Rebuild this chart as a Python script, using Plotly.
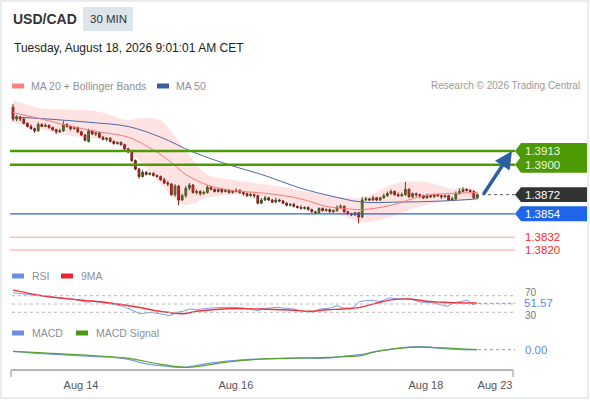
import plotly.graph_objects as go

W, H = 590, 400

# ---- 30 min candles (index 0 = first bar on the left) ----
open_ = [1.3954, 1.3943, 1.3945, 1.3943, 1.3939, 1.3936, 1.3934, 1.3932, 1.3938, 1.3936,
         1.3937, 1.3935, 1.3933, 1.3931, 1.3932, 1.3938, 1.3936, 1.3934, 1.3935, 1.3931,
         1.3928, 1.3922, 1.3932, 1.3929, 1.3930, 1.3926, 1.3924, 1.3925, 1.3922, 1.3920,
         1.3921, 1.3919, 1.3915, 1.3912, 1.3904, 1.3896, 1.3889, 1.3893, 1.3891, 1.3892,
         1.3890, 1.3889, 1.3886, 1.3883, 1.3882, 1.3872, 1.3880, 1.3867, 1.3871, 1.3878,
         1.3881, 1.3874, 1.3875, 1.3873, 1.3874, 1.3879, 1.3877, 1.3875, 1.3877, 1.3875,
         1.3876, 1.3874, 1.3875, 1.3876, 1.3874, 1.3873, 1.3871, 1.3872, 1.3871, 1.3864,
         1.3867, 1.3869, 1.3867, 1.3865, 1.3867, 1.3866, 1.3864, 1.3862, 1.3863, 1.3861,
         1.3860, 1.3859, 1.3860, 1.3858, 1.3856, 1.3855, 1.3859, 1.3857, 1.3858, 1.3856,
         1.3857, 1.3860, 1.3861, 1.3856, 1.3854, 1.3853, 1.3855, 1.3851, 1.3867, 1.3868,
         1.3867, 1.3869, 1.3867, 1.3869, 1.3871, 1.3873, 1.3875, 1.3872, 1.3871, 1.3872,
         1.3877, 1.3870, 1.3873, 1.3872, 1.3871, 1.3869, 1.3871, 1.3870, 1.3872, 1.3871,
         1.3870, 1.3871, 1.3867, 1.3868, 1.3873, 1.3875, 1.3877, 1.3876, 1.3875, 1.3869]
high = [1.3957, 1.3947, 1.3946, 1.3944, 1.3940, 1.3938, 1.3935, 1.3940, 1.3939, 1.3939,
        1.3938, 1.3936, 1.3934, 1.3934, 1.3941, 1.3939, 1.3937, 1.3936, 1.3936, 1.3932,
        1.3929, 1.3934, 1.3933, 1.3931, 1.3931, 1.3927, 1.3926, 1.3926, 1.3923, 1.3922,
        1.3922, 1.3920, 1.3916, 1.3913, 1.3905, 1.3897, 1.3895, 1.3894, 1.3893, 1.3893,
        1.3891, 1.3890, 1.3888, 1.3885, 1.3883, 1.3882, 1.3881, 1.3873, 1.3880, 1.3883,
        1.3882, 1.3877, 1.3876, 1.3876, 1.3881, 1.3880, 1.3878, 1.3878, 1.3878, 1.3877,
        1.3877, 1.3876, 1.3878, 1.3877, 1.3875, 1.3874, 1.3874, 1.3873, 1.3872, 1.3869,
        1.3871, 1.3870, 1.3868, 1.3869, 1.3868, 1.3867, 1.3865, 1.3864, 1.3864, 1.3862,
        1.3862, 1.3861, 1.3861, 1.3859, 1.3857, 1.3860, 1.3860, 1.3859, 1.3859, 1.3858,
        1.3862, 1.3863, 1.3862, 1.3857, 1.3855, 1.3856, 1.3856, 1.3870, 1.3870, 1.3869,
        1.3871, 1.3870, 1.3870, 1.3873, 1.3875, 1.3877, 1.3876, 1.3874, 1.3874, 1.3884,
        1.3878, 1.3874, 1.3874, 1.3873, 1.3872, 1.3873, 1.3872, 1.3873, 1.3873, 1.3872,
        1.3872, 1.3872, 1.3870, 1.3875, 1.3878, 1.3879, 1.3878, 1.3877, 1.3876, 1.3873]
low = [1.3941, 1.3941, 1.3941, 1.3938, 1.3935, 1.3933, 1.3930, 1.3931, 1.3936, 1.3936,
       1.3934, 1.3932, 1.3929, 1.3930, 1.3931, 1.3935, 1.3932, 1.3933, 1.3930, 1.3927,
       1.3922, 1.3921, 1.3928, 1.3927, 1.3925, 1.3923, 1.3922, 1.3921, 1.3919, 1.3919,
       1.3918, 1.3914, 1.3911, 1.3903, 1.3895, 1.3887, 1.3888, 1.3890, 1.3890, 1.3889,
       1.3888, 1.3885, 1.3882, 1.3880, 1.3871, 1.3870, 1.3862, 1.3866, 1.3869, 1.3876,
       1.3873, 1.3872, 1.3871, 1.3872, 1.3873, 1.3876, 1.3874, 1.3874, 1.3873, 1.3874,
       1.3873, 1.3873, 1.3874, 1.3873, 1.3871, 1.3870, 1.3870, 1.3869, 1.3863, 1.3863,
       1.3866, 1.3866, 1.3864, 1.3864, 1.3865, 1.3863, 1.3861, 1.3861, 1.3860, 1.3859,
       1.3858, 1.3858, 1.3857, 1.3855, 1.3854, 1.3854, 1.3856, 1.3856, 1.3855, 1.3855,
       1.3856, 1.3859, 1.3855, 1.3853, 1.3852, 1.3852, 1.3845, 1.3850, 1.3866, 1.3866,
       1.3866, 1.3866, 1.3866, 1.3868, 1.3870, 1.3872, 1.3871, 1.3870, 1.3870, 1.3871,
       1.3869, 1.3869, 1.3870, 1.3869, 1.3868, 1.3868, 1.3869, 1.3869, 1.3870, 1.3868,
       1.3869, 1.3866, 1.3866, 1.3867, 1.3872, 1.3874, 1.3875, 1.3874, 1.3868, 1.3868]
close = [1.3943, 1.3945, 1.3943, 1.3939, 1.3936, 1.3934, 1.3932, 1.3938, 1.3936, 1.3937,
         1.3935, 1.3933, 1.3931, 1.3932, 1.3938, 1.3936, 1.3934, 1.3935, 1.3931, 1.3928,
         1.3923, 1.3932, 1.3929, 1.3930, 1.3926, 1.3924, 1.3925, 1.3922, 1.3920, 1.3921,
         1.3919, 1.3915, 1.3912, 1.3904, 1.3896, 1.3889, 1.3893, 1.3891, 1.3892, 1.3890,
         1.3889, 1.3886, 1.3883, 1.3882, 1.3872, 1.3880, 1.3867, 1.3871, 1.3878, 1.3881,
         1.3874, 1.3875, 1.3873, 1.3874, 1.3879, 1.3877, 1.3875, 1.3877, 1.3875, 1.3876,
         1.3874, 1.3875, 1.3876, 1.3874, 1.3873, 1.3871, 1.3872, 1.3871, 1.3864, 1.3867,
         1.3869, 1.3867, 1.3865, 1.3867, 1.3866, 1.3864, 1.3862, 1.3863, 1.3861, 1.3860,
         1.3859, 1.3860, 1.3858, 1.3856, 1.3855, 1.3859, 1.3857, 1.3858, 1.3856, 1.3857,
         1.3860, 1.3861, 1.3856, 1.3854, 1.3853, 1.3855, 1.3851, 1.3867, 1.3868, 1.3867,
         1.3869, 1.3867, 1.3869, 1.3871, 1.3873, 1.3875, 1.3872, 1.3871, 1.3872, 1.3877,
         1.3870, 1.3873, 1.3872, 1.3871, 1.3869, 1.3871, 1.3870, 1.3872, 1.3871, 1.3870,
         1.3871, 1.3867, 1.3868, 1.3873, 1.3875, 1.3877, 1.3876, 1.3875, 1.3869, 1.3872]
bars = list(range(len(close)))

# moving averages / bands, read at a few bars
ma20_x = [0, 8, 15, 24, 32, 38, 43, 48, 54, 61, 71, 80, 87, 92, 97, 105, 114, 121, 129]
ma20 = [1.3949, 1.3943, 1.3937, 1.3931, 1.3926, 1.3916, 1.3905, 1.3891, 1.3881, 1.3876,
        1.3873, 1.3868, 1.3861, 1.3859, 1.3858, 1.3862, 1.3871, 1.3873, 1.3874]
ma50_x = [0, 10, 21, 32, 41, 50, 60, 69, 80, 88, 97, 107, 119, 129]
ma50 = [1.3945, 1.3943, 1.3940, 1.3936, 1.3926, 1.3912, 1.3900, 1.3891, 1.3878, 1.3871,
        1.3865, 1.3865, 1.3866, 1.3868]
bb_up_x = [0, 8, 15, 24, 32, 35, 41, 44, 49, 54, 61, 71, 80, 91, 97, 105, 109, 116, 121, 129]
bb_up = [1.3961, 1.3953, 1.3952, 1.3950, 1.3942, 1.3944, 1.3942, 1.3931, 1.3909, 1.3891,
         1.3886, 1.3881, 1.3876, 1.3870, 1.3869, 1.3881, 1.3884, 1.3883, 1.3878, 1.3876]
bb_lo_x = [0, 15, 27, 33, 38, 43, 46, 48, 54, 61, 71, 80, 91, 97, 105, 112, 119, 129]
bb_lo = [1.3940, 1.3928, 1.3922, 1.3911, 1.3893, 1.3875, 1.3865, 1.3862, 1.3869, 1.3872,
         1.3869, 1.3862, 1.3853, 1.3846, 1.3851, 1.3860, 1.3865, 1.3869]

# levels
resistance = [1.3913, 1.3900]
last_price = 1.3872
support = 1.3854
lower_levels = [1.3832, 1.3820]

# RSI + 9MA
rsi_x = [0, 3.9, 8.3, 13.1, 17.8, 20.6, 22.2, 26.9, 30.6, 35.3, 38.1, 40.8, 43.6, 45.6, 47.2,
         49.2, 51.1, 54.7, 59.4, 63.9, 68.1, 69.4, 73.3, 77.8, 80.6, 83.3, 85.3, 88.1, 90.0,
         91.7, 94.4, 96.4, 99.2, 101.9, 104.7, 107.5, 110.3, 113.1, 116.7, 120.6, 122.2,
         126.1, 127.8, 128.9]
rsi = [77.0, 72.4, 68.6, 64.5, 60.4, 54.1, 56.5, 50.7, 44.5, 26.6, 30.0, 26.6, 21.8, 30.0,
       32.5, 38.0, 36.3, 40.4, 42.0, 40.4, 33.9, 38.7, 42.0, 38.0, 32.5, 30.7, 38.0, 40.4,
       45.9, 40.4, 40.4, 56.5, 58.9, 56.5, 64.5, 62.0, 62.0, 54.8, 52.4, 44.5, 52.4, 58.9,
       48.3, 51.57]
rsi_ma_x = [0, 8.3, 17.8, 26.9, 34.4, 40.8, 47.2, 51.1, 59.4, 68.6, 77.8, 82.5, 87.2, 91.7,
            96.4, 101.1, 105.6, 110.3, 115.0, 119.4, 124.2, 128.9]
rsi_ma = [83.5, 70.0, 60.4, 52.4, 42.8, 32.4, 26.6, 32.4, 38.7, 38.0, 34.8, 32.4, 36.3, 38.0,
          42.0, 52.4, 60.4, 62.0, 56.5, 54.1, 52.4, 52.4]
rsi_levels = [70, 50, 30]

# MACD
macd_x = [0, 8.3, 17.8, 26.9, 31.7, 36.1, 40.8, 45.6, 48.3, 54.7, 62.2, 68.6, 77.8, 87.2,
          91.7, 96.4, 101.1, 105.6, 110.3, 115.0, 119.4, 124.2, 128.9]
macd = [-0.00008, -0.00020, -0.00030, -0.00037, -0.00047, -0.00067, -0.00080, -0.00088,
        -0.00087, -0.00067, -0.00053, -0.00047, -0.00042, -0.00042, -0.00033, -0.00025,
        -0.00008, 0.00004, 0.00014, 0.00014, 0.00005, 0.0, 0.0]
signal_x = [0, 17.8, 31.7, 40.8, 48.3, 59.4, 68.6, 87.2, 96.4, 101.1, 110.3, 119.4, 128.9]
signal = [-0.00008, -0.00025, -0.00042, -0.00072, -0.00088, -0.00062, -0.00047, -0.00038,
          -0.00030, -0.00008, 0.00012, 0.00009, 0.0]

x_tick_pos = [18.9, 61.9, 114.7, 133.9]
x_tick_text = ["Aug 14", "Aug 16", "Aug 18", "Aug 23"]

FONT = "Liberation Sans, Arial, sans-serif"
GREEN = "#4d9a06"
BLUE = "#2b64dc"
GRAYTXT = "#8c9099"


def px(x):
    return x / W


def py(y):
    return 1 - y / H


fig = go.Figure()

# bollinger band area
fig.add_trace(go.Scatter(x=bb_up_x + bb_lo_x[::-1], y=bb_up + bb_lo[::-1], fill="toself",
                         fillcolor="rgba(255,60,60,0.15)", line=dict(width=0, shape="spline"),
                         mode="lines", hoverinfo="skip"))
fig.add_trace(go.Scatter(x=ma50_x, y=ma50, mode="lines",
                         line=dict(color="#4a6ca8", width=1, shape="spline")))
fig.add_trace(go.Scatter(x=ma20_x, y=ma20, mode="lines",
                         line=dict(color="#f47c7c", width=1, shape="spline")))
fig.add_trace(go.Candlestick(x=bars, open=open_, high=high, low=low, close=close,
                             increasing=dict(line=dict(color="#2d5a1b", width=1), fillcolor="#3f8a2a"),
                             decreasing=dict(line=dict(color="#7a1c1c", width=1), fillcolor="#e0201b")))

# RSI panel
fig.add_trace(go.Scatter(x=rsi_x, y=rsi, yaxis="y2", mode="lines",
                         line=dict(color="#7b9be6", width=1)))
fig.add_trace(go.Scatter(x=rsi_ma_x, y=rsi_ma, yaxis="y2", mode="lines",
                         line=dict(color="#f0323c", width=1.4, shape="spline")))

# MACD panel
fig.add_trace(go.Scatter(x=macd_x, y=macd, yaxis="y3", mode="lines",
                         line=dict(color="#7b9be6", width=1.3, shape="spline")))
fig.add_trace(go.Scatter(x=signal_x, y=signal, yaxis="y3", mode="lines",
                         line=dict(color="#5aa02c", width=1.2, shape="spline")))

shapes = []
# frame
shapes.append(dict(type="rect", xref="paper", yref="paper", x0=px(1), x1=px(588), y0=py(398),
                   y1=py(1), line=dict(color="#e4e8ec", width=1.5)))
# header box
shapes.append(dict(type="rect", xref="paper", yref="paper", x0=px(83), x1=px(133), y0=py(31),
                   y1=py(7), fillcolor="#dde5ec", line=dict(width=0)))

# level lines
for lv in resistance:
    shapes.append(dict(type="line", xref="paper", yref="y", x0=px(10), x1=px(515), y0=lv, y1=lv,
                       line=dict(color=GREEN, width=2.5)))
shapes.append(dict(type="line", xref="paper", yref="y", x0=px(10), x1=px(515), y0=support,
                   y1=support, line=dict(color=BLUE, width=1.2)))
for lv in lower_levels:
    shapes.append(dict(type="line", xref="paper", yref="y", x0=px(10), x1=px(515), y0=lv, y1=lv,
                       line=dict(color="#f4a3a3", width=1)))
shapes.append(dict(type="line", xref="paper", yref="y", x0=px(482), x1=px(515), y0=last_price,
                   y1=last_price, line=dict(color="#555", width=1, dash="dot")))


def tag(level, color, half):
    xt, xb, xr = px(515), px(521), px(587)
    return dict(type="path", xref="paper", yref="y", fillcolor=color, line=dict(width=0),
                path=f"M {xt},{level} L {xb},{level + half} L {xr},{level + half} "
                     f"L {xr},{level - half} L {xb},{level - half} Z")


for lv in resistance:
    shapes.append(tag(lv, GREEN, 0.00075))
shapes.append(tag(last_price, "#333333", 0.0007))
shapes.append(tag(support, "#1f66ea", 0.0007))

# RSI guide lines
for lv in rsi_levels:
    shapes.append(dict(type="line", xref="paper", yref="y2", x0=px(12), x1=px(515), y0=lv, y1=lv,
                       line=dict(color="#b8b8b8", width=1, dash="dot")))
shapes.append(dict(type="line", xref="paper", yref="y2", x0=px(478), x1=px(515), y0=rsi[-1],
                   y1=rsi[-1], line=dict(color="#7b9be6", width=1, dash="dot")))
shapes.append(dict(type="line", xref="paper", yref="y3", x0=px(478), x1=px(515), y0=macd[-1],
                   y1=macd[-1], line=dict(color="#7b9be6", width=1, dash="dot")))

# axis end ticks
for xe in (11, 513):
    shapes.append(dict(type="line", xref="paper", yref="paper", x0=px(xe), x1=px(xe), y0=py(370),
                       y1=py(377), line=dict(color="#b4b4b4", width=1.5)))

# legend swatches
for x0, y0, col in [(12, 86, "#ff7f7f"), (157, 86, "#3a5fa0"), (12, 276, "#6b8fe3"),
                    (61, 276, "#e8262e"), (12, 333, "#6b8fe3"), (76, 333, "#4a9a10")]:
    shapes.append(dict(type="rect", xref="paper", yref="paper", x0=px(x0), x1=px(x0 + 12),
                       y0=py(y0 + 2.5), y1=py(y0 - 2.5), fillcolor=col, line=dict(width=0)))

ann = []


def text(x, y, s, size=10.5, color=GRAYTXT, anchor="left", **kw):
    ann.append(dict(x=px(x), y=py(y), xref="paper", yref="paper", text=s, showarrow=False,
                    xanchor=anchor, yanchor="middle", font=dict(size=size, color=color, family=FONT),
                    **kw))


text(11, 19, "<b>USD/CAD</b>", size=14, color="#333")
text(108, 19, "30 MIN", size=11.5, color="#333", anchor="center")
text(12, 48, "Tuesday, August 18, 2026 9:01:01 AM CET", size=12, color="#222")
text(29, 86, "MA 20 + Bollinger Bands")
text(174, 86, "MA 50")
text(582, 86, "Research © 2026 Trading Central", size=10, color="#9a9a9a", anchor="right")
text(30, 276, "RSI")
text(79, 276, "9MA")
text(30, 333, "MACD")
text(94, 333, "MACD Signal")

# price labels
for lv in resistance:
    ann.append(dict(x=px(523), y=lv, xref="paper", yref="y", text=f"{lv:.4f}", showarrow=False,
                    xanchor="left", font=dict(size=11.5, color="#eef7e4", family=FONT)))
ann.append(dict(x=px(523), y=last_price, xref="paper", yref="y", text=f"{last_price:.4f}",
                showarrow=False, xanchor="left", font=dict(size=11.5, color="white", family=FONT)))
ann.append(dict(x=px(523), y=support, xref="paper", yref="y", text=f"{support:.4f}",
                showarrow=False, xanchor="left", font=dict(size=11.5, color="white", family=FONT)))
for lv in lower_levels:
    ann.append(dict(x=px(523), y=lv, xref="paper", yref="y", text=f"{lv:.4f}", showarrow=False,
                    xanchor="left", font=dict(size=11.5, color="#ff2a2a", family=FONT)))

# RSI / MACD labels
for lv, shift in ((70, 3), (30, -3)):
    ann.append(dict(x=px(523), y=lv, xref="paper", yref="y2", text=str(lv), showarrow=False,
                    xanchor="left", yshift=shift, font=dict(size=10, color="#777", family=FONT)))
ann.append(dict(x=px(523), y=rsi[-1], xref="paper", yref="y2", text=f"{rsi[-1]:.2f}",
                showarrow=False, xanchor="left", bgcolor="white", borderpad=0,
                font=dict(size=11.5, color="#6688dd", family=FONT)))
ann.append(dict(x=px(523), y=macd[-1], xref="paper", yref="y3", text=f"{macd[-1]:.2f}",
                showarrow=False, xanchor="left", font=dict(size=11.5, color="#6688dd", family=FONT)))

# forecast arrow
ann.append(dict(x=138.6, y=resistance[0], xref="x", yref="y", ax=130.4, ay=1.3871, axref="x",
                ayref="y", text="", showarrow=True, arrowhead=2, arrowsize=1, arrowwidth=3.5,
                arrowcolor="#2e5fa3", standoff=0))

fig.update_layout(
    width=W, height=H, autosize=False, showlegend=False,
    margin=dict(l=0, r=0, t=0, b=0, pad=0),
    paper_bgcolor="white", plot_bgcolor="white",
    font=dict(family=FONT),
    shapes=shapes, annotations=ann,
    xaxis=dict(domain=[px(11), px(513)], range=[-0.556, 138.89], anchor="free", position=py(370),
               showgrid=False, zeroline=False, showline=True, linecolor="#b4b4b4", linewidth=2,
               tickmode="array", tickvals=x_tick_pos, ticktext=x_tick_text, ticks="outside",
               ticklen=5, tickcolor="rgba(0,0,0,0)", tickfont=dict(size=11, color="#555"),
               rangeslider=dict(visible=False), fixedrange=True),
    yaxis=dict(domain=[py(258), py(98)], range=[1.38125, 1.39628], visible=False, anchor="x"),
    yaxis2=dict(domain=[py(322.7), py(285.3)], range=[5, 95], visible=False, anchor="x"),
    yaxis3=dict(domain=[py(372), py(332)], range=[-0.001115, 0.000885], visible=False, anchor="x"),
)

fig.write_html("out.html", config={"displayModeBar": False},
               post_script="document.body.style.margin='0';")
